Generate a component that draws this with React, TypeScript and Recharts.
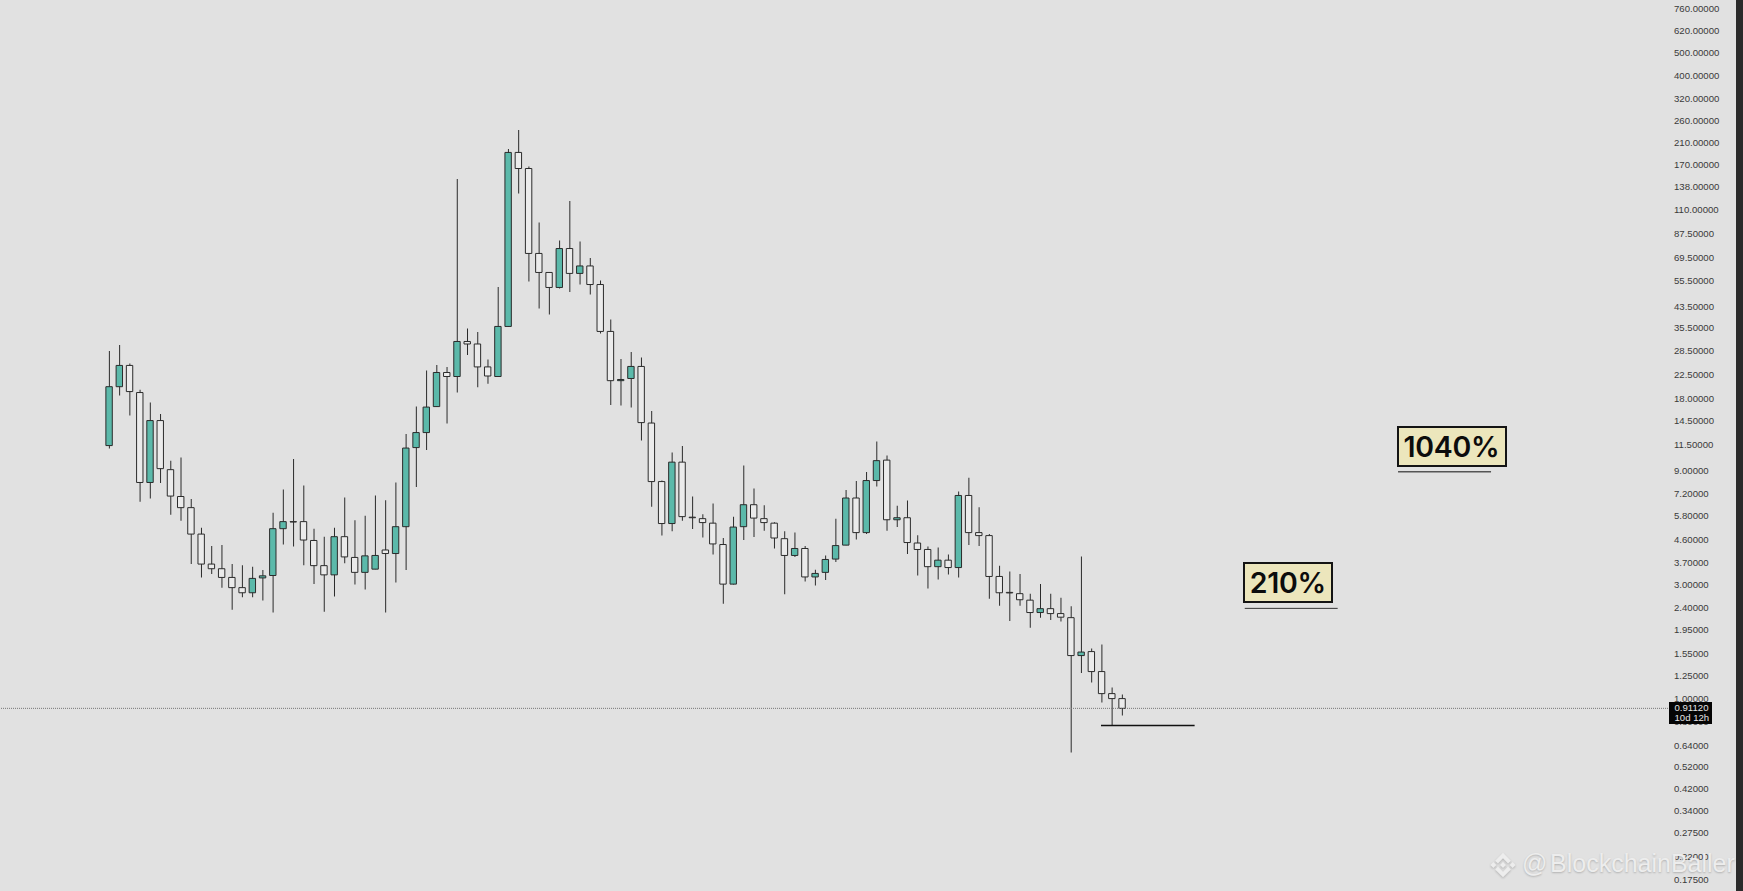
import { ComposedChart, Bar, Cell, XAxis, YAxis, ReferenceLine } from "recharts";

const highs = [
  28.33, 30.02, 25.14, 19.53, 17.25, 15.44, 9.87, 10.17, 6.82, 5.18,
  4.34, 4.38, 3.65, 3.61, 3.56, 3.45, 5.98, 7.475, 10.02, 7.77,
  5.13, 4.75, 5.18, 6.92, 5.57, 5.81, 7.06, 6.75, 8.0, 12.74,
  16.6, 23.49, 24.78, 24.31, 148.2, 35.2, 34.04, 26.1, 52.45, 197.7,
  237.4, 167.1, 97.5, 60.4, 82.0, 119.9, 81.2, 69.36, 55.8, 38.33,
  26.23, 28.06, 26.61, 15.9, 8.15, 10.67, 11.36, 6.99, 5.9, 6.53,
  4.69, 5.76, 9.41, 7.55, 6.43, 5.46, 5.01, 4.94, 4.34, 3.46,
  3.965, 5.65, 7.44, 8.11, 8.84, 11.86, 10.37, 6.4, 6.72, 4.82,
  4.32, 4.28, 4.0, 7.33, 8.38, 6.31, 4.87, 3.595, 3.4, 3.32,
  2.746, 3.01, 2.746, 2.64, 2.435, 3.927, 1.619, 1.683, 1.113, 1.04,
];
const lows = [
  11.09, 18.46, 15.22, 6.65, 6.86, 7.96, 5.87, 5.54, 3.65, 3.21,
  3.32, 2.91, 2.355, 2.655, 2.655, 2.57, 2.29, 4.405, 4.32, 3.61,
  3.01, 2.31, 2.67, 3.68, 3.0, 2.857, 3.476, 2.29, 3.056, 3.45,
  7.66, 10.93, 16.52, 14.1, 19.0, 27.26, 20.0, 20.69, 22.12, 35.8,
  128.9, 55.3, 42.66, 40.22, 51.7, 49.93, 53.7, 48.75, 33.55, 16.84,
  16.76, 16.44, 11.97, 6.34, 4.8, 5.01, 5.54, 5.11, 4.71, 4.0,
  2.495, 3.0, 4.6, 4.73, 5.03, 4.24, 2.73, 3.91, 3.085, 2.97,
  3.13, 3.72, 4.37, 4.62, 4.87, 7.69, 5.03, 5.21, 4.02, 3.27,
  2.884, 3.15, 3.3, 3.21, 4.38, 4.34, 2.617, 2.447, 2.11, 2.447,
  1.98, 2.18, 2.13, 2.1, 0.5955, 1.28, 1.168, 0.9636, 0.776, 0.85,
];
const opens = [
  11.41, 20.1, 24.66, 19.0, 8.0, 14.51, 9.05, 6.99, 6.28, 4.87,
  3.65, 3.49, 3.21, 2.91, 2.77, 3.195, 3.27, 5.13, 5.49, 5.49,
  4.58, 3.595, 3.29, 4.75, 3.89, 3.37, 3.476, 4.18, 4.04, 5.23,
  11.19, 12.93, 16.6, 23.04, 22.17, 31.05, 30.31, 24.31, 22.17, 35.88,
  191.3, 163.9, 72.4, 60.3, 52.2, 75.9, 59.75, 64.2, 53.7, 34.2,
  21.3, 21.75, 24.42, 14.17, 8.07, 5.39, 9.73, 5.73, 5.65, 5.41,
  4.405, 3.01, 5.23, 6.46, 5.65, 5.41, 4.66, 3.965, 4.24, 3.225,
  3.37, 3.83, 4.38, 6.89, 4.94, 8.15, 9.92, 5.59, 5.7, 4.47,
  4.2, 3.56, 3.79, 3.53, 7.06, 4.94, 4.8, 3.24, 2.78, 2.746,
  2.58, 2.29, 2.377, 2.267, 2.18, 1.514, 1.573, 1.298, 1.05, 1.0008,
];
const closes = [
  20.1, 24.66, 19.18, 8.0, 14.51, 9.14, 7.02, 6.28, 4.87, 3.65,
  3.49, 3.21, 2.91, 2.77, 3.18, 3.26, 5.13, 5.49, 5.47, 4.6,
  3.595, 3.29, 4.75, 3.91, 3.37, 3.95, 3.965, 4.04, 5.23, 11.14,
  12.93, 16.52, 23.04, 22.17, 31.05, 30.31, 24.31, 22.28, 35.88, 191.3,
  163.9, 72.4, 60.3, 52.2, 75.9, 59.75, 64.2, 53.7, 34.2, 21.3,
  21.54, 24.42, 14.23, 8.07, 5.39, 9.73, 5.76, 5.7, 5.44, 4.43,
  3.01, 5.21, 6.46, 5.68, 5.44, 4.69, 3.965, 4.24, 3.225, 3.336,
  3.815, 4.36, 6.89, 4.94, 8.15, 9.87, 5.59, 5.7, 4.49, 4.2,
  3.56, 3.79, 3.53, 7.06, 4.94, 4.8, 3.24, 2.77, 2.765, 2.59,
  2.29, 2.377, 2.267, 2.19, 1.514, 1.566, 1.298, 1.05, 1.0008, 0.9112,
];
const priceTicks = [
  760, 620, 500, 400, 320, 260, 210, 170, 138, 110, 87.5, 69.5, 55.5,
  43.5, 35.5, 28.5, 22.5, 18, 14.5, 11.5, 9, 7.2, 5.8, 4.6, 3.7, 3,
  2.4, 1.95, 1.55, 1.25, 1, 0.8, 0.64, 0.52, 0.42, 0.34, 0.275, 0.22, 0.175,
];
const lastPrice = 0.9112;

const rows = highs.map((high, i) => ({
  slot: i,
  wick: [lows[i], high],
  body: [Math.min(opens[i], closes[i]), Math.max(opens[i], closes[i])],
  up: closes[i] > opens[i],
}));

const W = 1743;
const H = 891;
const slotRange: [number, number] = [-10.653, 152.56];
const INK = "#2b2b2b";

function Tag({ left, top, width, text }: { left: number; top: number; width: number; text: string }) {
  return (
    <div
      style={{
        position: "absolute", left, top, width, height: 41.5, boxSizing: "border-box",
        background: "#ece6bc", border: "2.5px solid #141414", paddingTop: 1,
        font: "600 28.5px Inter, sans-serif", letterSpacing: -0.3, color: "#0c0c0c",
        display: "flex", alignItems: "center", justifyContent: "center",
      }}
    >
      {text}
    </div>
  );
}

function Watermark() {
  return (
    <div style={{ position: "absolute", left: 1489, top: 850, width: 254, height: 30, color: "#ededed", textShadow: "0 1px 2px rgba(0,0,0,0.22)" }}>
      <svg width="28" height="28" viewBox="0 0 32 32" style={{ position: "absolute", left: 0, top: 1, filter: "drop-shadow(0 1px 1px rgba(0,0,0,0.22))" }} fill="#ededed">
        <polygon points="16,2 25,11 21.8,14.2 16,8.4 10.2,14.2 7,11" />
        <polygon points="16,30 25,21 21.8,17.8 16,23.6 10.2,17.8 7,21" />
        <polygon points="16,12.6 19.4,16 16,19.4 12.6,16" />
        <polygon points="5,12.6 8.4,16 5,19.4 1.6,16" />
        <polygon points="27,12.6 30.4,16 27,19.4 23.6,16" />
      </svg>
      <span style={{ position: "absolute", left: 33, top: -1, font: "25px 'Liberation Sans', sans-serif", whiteSpace: "nowrap" }}>@</span>
      <span style={{ position: "absolute", left: 61, top: -1, font: "25px 'Liberation Sans', sans-serif", whiteSpace: "nowrap" }}>BlockchainBaller</span>
    </div>
  );
}

export default function App() {
  return (
    <div style={{ position: "absolute", left: 0, top: 0, width: W, height: H, overflow: "hidden", background: "#e1e1e1" }}>
      <ComposedChart width={W} height={H} data={rows} margin={{ top: 0, right: 0, bottom: 0, left: 0 }}>
        <XAxis xAxisId="wick" dataKey="slot" type="number" domain={slotRange} allowDataOverflow hide />
        <XAxis xAxisId="body" dataKey="slot" type="number" domain={slotRange} allowDataOverflow hide />
        <YAxis
          orientation="right"
          scale="log"
          domain={[0.1573, 828.7]}
          allowDataOverflow
          width={73}
          ticks={priceTicks}
          interval={0}
          axisLine={false}
          tickLine={false}
          tickSize={0}
          tickMargin={4}
          tickFormatter={(v: number) => v.toFixed(5)}
          tick={{ fontSize: 9.6, fontFamily: "'Liberation Sans', sans-serif", fill: "#3a3a3a" }}
        />
        <ReferenceLine xAxisId="body" y={lastPrice} stroke="#777" strokeWidth={1} strokeDasharray="1 1" />
        <Bar xAxisId="wick" dataKey="wick" barSize={1} fill={INK} isAnimationActive={false} />
        <Bar xAxisId="body" dataKey="body" barSize={6.4} stroke={INK} strokeWidth={1} isAnimationActive={false}>
          {rows.map((r) => (
            <Cell key={r.slot} fill={r.up ? "#5bb9aa" : "#ebebeb"} />
          ))}
        </Bar>
        <ReferenceLine xAxisId="body" segment={[{ x: 96.95, y: 0.7735 }, { x: 106.1, y: 0.7735 }]} stroke="#111" strokeWidth={1.5} />
        <ReferenceLine xAxisId="body" segment={[{ x: 125.98, y: 8.86 }, { x: 135.07, y: 8.86 }]} stroke="#555" strokeWidth={1.5} />
        <ReferenceLine xAxisId="body" segment={[{ x: 111, y: 2.384 }, { x: 120.08, y: 2.384 }]} stroke="#333" strokeWidth={1} />
      </ComposedChart>

      <Tag left={1396.5} top={425.7} width={110} text="1040%" />
      <Tag left={1242.5} top={561.7} width={90.5} text="210%" />

      <div
        style={{
          position: "absolute", left: 1669, top: 702.3, width: 42.5, height: 21.7,
          background: "#050505", color: "#e4e4e4", paddingLeft: 5.5, paddingTop: 1,
          font: "9.6px/10px 'Liberation Sans', sans-serif",
          boxSizing: "border-box", whiteSpace: "nowrap",
        }}
      >
        0.91120
        <br />
        10d 12h
      </div>

      <Watermark />
      <div style={{ position: "absolute", left: 1736, top: 0, width: 7, height: H, background: "#2a2a2a" }} />
    </div>
  );
}
